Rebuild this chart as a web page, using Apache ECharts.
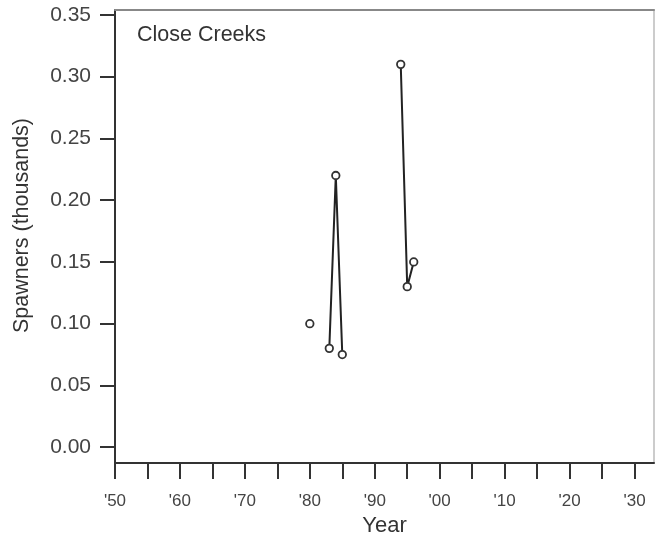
<!DOCTYPE html>
<html>
<head>
<meta charset="utf-8">
<script src="https://cdn.jsdelivr.net/npm/echarts@6/dist/echarts.min.js"></script>
<style>
html,body{margin:0;padding:0;background:#fff;}
#chart{width:655px;height:542px;}
</style>
</head>
<body>
<div id="chart"></div>
<script>
// Data
var years = [1980,1981,1982,1983,1984,1985,1986,1987,1988,1989,1990,1991,1992,1993,1994,1995,1996];
var spawners = [0.10,null,null,0.08,0.22,0.075,null,null,null,null,null,null,null,null,0.31,0.13,0.15];
var xTickValues = [1950,1955,1960,1965,1970,1975,1980,1985,1990,1995,2000,2005,2010,2015,2020,2025,2030];
var xLabelValues = [1950,1960,1970,1980,1990,2000,2010,2020,2030];
var yTickValues = [0,0.05,0.10,0.15,0.20,0.25,0.30,0.35];
var titleText = 'Close Creeks';
var xName = 'Year';
var yName = 'Spawners (thousands)';

var FONT = '"Liberation Sans", Arial, Helvetica, sans-serif';
var seriesData = years.map(function(y, i){ return [y, spawners[i] === null ? '-' : spawners[i]]; });

var chart = echarts.init(document.getElementById('chart'), null, {renderer:'canvas'});
chart.setOption({
  animation: false,
  backgroundColor: '#fff',
  title: {
    text: titleText, left: 137, top: 24, padding: 0,
    textStyle: {fontFamily: FONT, fontSize: 21.5, fontWeight: 'normal', color: '#333', lineHeight: 22}
  },
  grid: {left: 115, right: 1, top: 10, bottom: 78, containLabel: false},
  xAxis: [{
    type: 'value', min: 1950, max: 2033,
    name: xName, nameLocation: 'middle', nameGap: 49,
    nameTextStyle: {fontFamily: FONT, fontSize: 22, color: '#333'},
    axisLine: {show: true, onZero: false, lineStyle: {color: '#333', width: 2}},
    axisTick: {show: true, length: 16, customValues: xTickValues, lineStyle: {color: '#333', width: 2}},
    axisLabel: {show: true, margin: 30, customValues: xLabelValues, fontFamily: FONT, fontSize: 17, color: '#444',
      formatter: function(v){ var s = String(v % 100); if (s.length < 2) s = '0' + s; return "'" + s; }},
    splitLine: {show: false}
  }, {
    type: 'value', position: 'top', min: 1950, max: 2033,
    axisLine: {show: true, onZero: false, lineStyle: {color: '#888', width: 2}},
    axisTick: {show: false}, axisLabel: {show: false}, splitLine: {show: false}
  }],
  yAxis: [{
    type: 'value', min: -0.0129, max: 0.354,
    name: yName, nameLocation: 'middle', nameGap: 82, nameRotate: 90,
    nameTextStyle: {fontFamily: FONT, fontSize: 21.5, color: '#333', padding: [0,0,0,22]},
    axisLine: {show: true, onZero: false, lineStyle: {color: '#333', width: 2}},
    axisTick: {show: true, length: 15, customValues: yTickValues, lineStyle: {color: '#333', width: 2}},
    axisLabel: {show: true, margin: 24, customValues: yTickValues, fontFamily: FONT, fontSize: 21, color: '#444',
      formatter: function(v){ return v.toFixed(2); }},
    splitLine: {show: false}
  }, {
    type: 'value', position: 'right', min: -0.0129, max: 0.354,
    axisLine: {show: true, onZero: false, lineStyle: {color: '#bbb', width: 1.5}},
    axisTick: {show: false}, axisLabel: {show: false}, splitLine: {show: false}
  }],
  series: [{
    type: 'line', data: seriesData, connectNulls: false,
    symbol: 'circle', symbolSize: 7.5, showSymbol: true,
    lineStyle: {color: '#222', width: 2},
    itemStyle: {color: '#fff', borderColor: '#333', borderWidth: 1.8},
    z: 3
  }]
});
</script>
</body>
</html>
